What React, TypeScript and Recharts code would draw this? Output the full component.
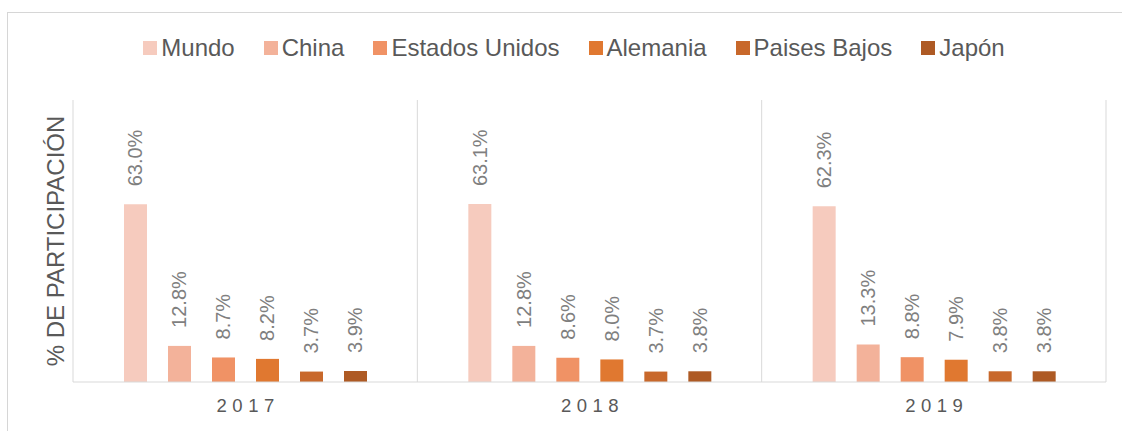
import { Bar, BarChart, CartesianGrid, Label, LabelList, XAxis, YAxis } from 'recharts';

const years = ['2017', '2018', '2019'];
const series = ['Mundo', 'China', 'Estados Unidos', 'Alemania', 'Paises Bajos', 'Japón'];
const colors = ['#F6CBBE', '#F3B29A', '#F09265', '#E07830', '#C8682B', '#AE5A24'];

const mundo = [63.0, 63.1, 62.3];
const china = [12.8, 12.8, 13.3];
const estadosUnidos = [8.7, 8.6, 8.8];
const alemania = [8.2, 8.0, 7.9];
const paisesBajos = [3.7, 3.7, 3.8];
const japon = [3.9, 3.8, 3.8];

const values = [mundo, china, estadosUnidos, alemania, paisesBajos, japon];

const data = years.map((year, i) => {
  const row: Record<string, string | number> = { year };
  series.forEach((s, j) => {
    row[s] = values[j][i];
  });
  return row;
});

const font = '"Liberation Sans", Arial, sans-serif';

const renderValue = (props: any) => {
  const { x, y, width, value } = props;
  const cx = Number(x) + Number(width) / 2;
  const cy = Number(y) - 18;
  return (
    <text
      x={cx}
      y={cy}
      transform={`rotate(-90, ${cx}, ${cy})`}
      textAnchor='start'
      dominantBaseline='central'
      fill='#7F7F7F'
      fontSize={20}
      fontFamily={font}
    >
      {Number(value).toFixed(1)}%
    </text>
  );
};

const renderTick = (props: any) => {
  const { x, y, payload } = props;
  return (
    <text
      x={x + 3}
      y={y}
      dy={22}
      textAnchor='middle'
      fill='#595959'
      fontSize={18.5}
      fontFamily={font}
      letterSpacing={5.5}
    >
      {payload.value}
    </text>
  );
};

const renderYLabel = (props: any) => {
  const vb = props.viewBox || { x: 0, y: 100, width: 73, height: 282 };
  const cx = vb.x + vb.width - 18;
  const cy = vb.y + vb.height / 2;
  return (
    <text
      x={cx}
      y={cy}
      transform={`rotate(-90, ${cx}, ${cy})`}
      textAnchor='middle'
      dominantBaseline='central'
      fill='#595959'
      fontSize={24}
      fontFamily={font}
    >
      % DE PARTICIPACIÓN
    </text>
  );
};

export default function App() {
  return (
    <div style={{ position: 'absolute', left: 0, top: 0, width: 1122, height: 431, overflow: 'hidden', background: '#fff' }}>
      <div
        style={{
          position: 'absolute',
          left: 7,
          top: 12,
          width: 1200,
          height: 500,
          borderTop: '1px solid #D6D6D6',
          borderLeft: '1px solid #D6D6D6',
        }}
      />
      <div
        style={{
          position: 'absolute',
          left: 0,
          top: 34,
          width: 1148,
          display: 'flex',
          justifyContent: 'center',
          gap: 29,
          fontFamily: font,
          fontSize: 24,
          lineHeight: '28px',
          color: '#595959',
        }}
      >
        {series.map((s, i) => (
          <div key={s} style={{ display: 'flex', alignItems: 'center' }}>
            <span style={{ width: 14, height: 14, background: colors[i], marginRight: 4, display: 'inline-block' }} />
            <span>{s}</span>
          </div>
        ))}
      </div>
      <BarChart
        width={1122}
        height={431}
        data={data}
        barSize={23}
        barGap={21}
        margin={{ top: 100, right: 16, bottom: 0, left: 0 }}
        style={{ position: 'absolute', left: 0, top: 0 }}
      >
        <CartesianGrid
          horizontal={false}
          stroke='#D9D9D9'
          verticalCoordinatesGenerator={(p: any) => {
            const left = p?.offset?.left ?? 73;
            const w = p?.offset?.width ?? 1033;
            return [0, 1, 2, 3].map((i) => left + (i * w) / 3);
          }}
        />
        <XAxis
          dataKey='year'
          height={49}
          axisLine={{ stroke: '#D9D9D9' }}
          tickLine={false}
          tick={renderTick}
        />
        <YAxis width={73} domain={[0, 100]} tick={false} axisLine={false} tickLine={false}>
          <Label content={renderYLabel} />
        </YAxis>
        {series.map((s, i) => (
          <Bar key={s} dataKey={s} fill={colors[i]} isAnimationActive={false}>
            <LabelList dataKey={s} content={renderValue} />
          </Bar>
        ))}
      </BarChart>
    </div>
  );
}
